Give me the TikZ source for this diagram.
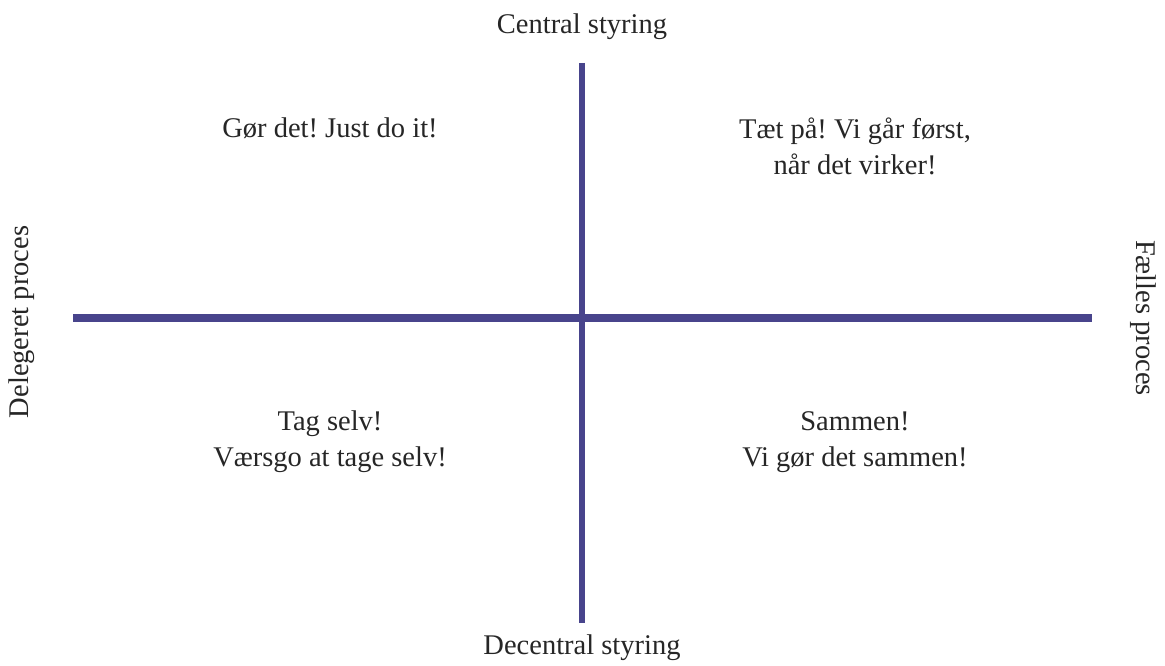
\documentclass[tikz,border=0pt]{standalone}
\usepackage{fontspec}
\setmainfont{Liberation Serif}
\definecolor{axis}{RGB}{72,68,140}
\tikzset{
  axisline/.style={draw=axis, line width=#1},
  lbl/.style={font=\fontsize{28.5}{36}\selectfont\frenchspacing, align=center, inner sep=0pt, text=black!85},
}
\begin{document}
\begin{tikzpicture}[x=1pt,y=-1pt]
\useasboundingbox (0,0) rectangle (1165,666);
\coordinate (vt) at (582,63);
\coordinate (vb) at (582,623);
\coordinate (hl) at (73,317.5);
\coordinate (hr) at (1092,317.5);
\draw[axisline=8pt] (hl) -- (hr);
\draw[axisline=6pt] (vt) -- (vb);
\node[lbl] (top) at (582,27) {Central styring};
\node[lbl] (bot) at (582,648) {Decentral styring};
\node[lbl, rotate=90] (left) at (22,322) {Delegeret proces};
\node[lbl, rotate=-90] (right) at (1143,318) {Fælles proces};
\node[lbl] (q1) at (330,128) {Gør det! Just do it!};
\node[lbl] (q2) at (855,146) {Tæt på! Vi går først,\\når det virker!};
\node[lbl] (q3) at (330,442) {Tag selv!\\Værsgo at tage selv!};
\node[lbl] (q4) at (855,442) {Sammen!\\Vi gør det sammen!};
\end{tikzpicture}
\end{document}
